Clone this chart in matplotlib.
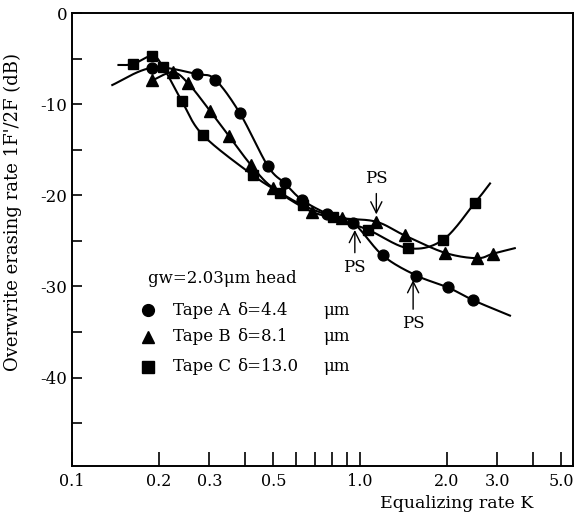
import numpy as np
import matplotlib
matplotlib.use("Agg")
import matplotlib.pyplot as plt

plt.rcParams['font.family'] = ['DejaVu Serif']
plt.rcParams['axes.unicode_minus'] = False

# Tape A (circles), delta = 4.4 um
tape_a_k = [0.190, 0.272, 0.314, 0.383, 0.479, 0.549, 0.629, 0.768, 0.946, 1.20, 1.57, 2.02, 2.47]
tape_a_db = [-6.0, -6.7, -7.3, -11.0, -16.8, -18.7, -20.5, -22.0, -23.0, -26.6, -28.8, -30.1, -31.5]
# Tape B (triangles), delta = 8.1 um
tape_b_k = [0.190, 0.224, 0.253, 0.301, 0.351, 0.419, 0.499, 0.681, 0.866, 1.14, 1.43, 1.97, 2.55, 2.90]
tape_b_db = [-7.4, -6.5, -7.7, -10.7, -13.5, -16.7, -19.2, -21.8, -22.5, -22.9, -24.4, -26.3, -26.9, -26.4]
# Tape C (squares), delta = 13.0 um
tape_c_k = [0.163, 0.190, 0.207, 0.241, 0.285, 0.425, 0.528, 0.634, 0.806, 1.07, 1.47, 1.94, 2.51]
tape_c_db = [-5.6, -4.7, -5.9, -9.7, -13.4, -17.8, -19.7, -21.1, -22.4, -23.8, -25.8, -24.9, -20.8]

# where the hand drawn curves run past the first / last points
curve_a_ends = [(0.138, -7.9), (3.32, -33.2)]
curve_b_ends = [(0.190, -7.4), (3.45, -25.8)]
curve_c_ends = [(0.145, -5.7), (2.83, -18.7)]

# PS markers: K at arrow, arrow tip dB, text dB
ps_k = [1.14, 0.96, 1.53]
ps_tip = [-22.4, -23.5, -29.0]
ps_text = [-18.2, -27.9, -34.1]

x_ticks = [0.1, 0.2, 0.3, 0.4, 0.5, 0.6, 0.7, 0.8, 0.9, 1.0, 2.0, 3.0, 4.0, 5.0]
x_labels = ['0.1', '0.2', '0.3', '', '0.5', '', '', '', '', '1.0', '2.0', '3.0', '', '5.0']
y_ticks = [0, -10, -20, -30, -40]
y_minor = [-5, -15, -25, -35, -45]

legend_markers = ['o', '^', 's']
legend_tapes = ['Tape A', 'Tape B', 'Tape C']
legend_delta = ['\u03b4=4.4', '\u03b4=8.1', '\u03b4=13.0']


def smooth(xs, ys, n=25):
    # catmull-rom through the nodes, in log-K space
    pts = np.column_stack([np.log10(xs), ys])
    p = np.vstack([pts[0], pts, pts[-1]])
    t = np.linspace(0, 1, n)[:, None]
    out = []
    for i in range(1, len(p) - 2):
        p0, p1, p2, p3 = p[i - 1], p[i], p[i + 1], p[i + 2]
        seg = 0.5 * (2 * p1 + (-p0 + p2) * t + (2 * p0 - 5 * p1 + 4 * p2 - p3) * t ** 2
                     + (-p0 + 3 * p1 - 3 * p2 + p3) * t ** 3)
        out.append(seg)
    out = np.vstack(out)
    return 10 ** out[:, 0], out[:, 1]


def curve_nodes(k, db, ends):
    ks = list(k)
    dbs = list(db)
    (k0, d0), (k1, d1) = ends
    if k0 < ks[0]:
        ks.insert(0, k0)
        dbs.insert(0, d0)
    ks.append(k1)
    dbs.append(d1)
    return ks, dbs


fig = plt.figure(figsize=(5.76, 5.13), dpi=100)
ax = fig.add_axes([0.125, 0.0916, 0.87, 0.883])

for k, db, ends, mk, ms in [(tape_a_k, tape_a_db, curve_a_ends, 'o', 7.8),
                            (tape_b_k, tape_b_db, curve_b_ends, '^', 8.5),
                            (tape_c_k, tape_c_db, curve_c_ends, 's', 7.2)]:
    ck, cdb = curve_nodes(k, db, ends)
    sx, sy = smooth(ck, cdb)
    ax.plot(sx, sy, color='black', lw=1.5)
    ax.plot(k, db, ls='none', marker=mk, ms=ms, color='black')

for k, tip, txt in zip(ps_k, ps_tip, ps_text):
    ax.annotate('', xy=(k, tip), xytext=(k, txt + (1.3 if txt < tip else -1.3)),
                arrowprops=dict(arrowstyle='->', lw=1.0, color='black', mutation_scale=20))
    ax.text(k, txt, 'PS', ha='center', va='center', fontsize=12)

# legend block
ax.text(0.152, 0.415, 'gw=2.03\u03bcm head', transform=ax.transAxes, fontsize=12, va='center')
rows_y = [0.344, 0.285, 0.219]
for mk, tape, delta, yy in zip(legend_markers, legend_tapes, legend_delta, rows_y):
    ax.plot([0.152], [yy], marker=mk, ms=8.5, color='black', transform=ax.transAxes, clip_on=False)
    ax.text(0.202, yy, tape, transform=ax.transAxes, fontsize=12, va='center')
    ax.text(0.329, yy, delta, transform=ax.transAxes, fontsize=12, va='center')
    ax.text(0.501, yy, '\u03bcm', transform=ax.transAxes, fontsize=12, va='center')

ax.set_xscale('log')
ax.set_xlim(0.1, 5.5)
ax.set_ylim(-49.7, 0)
ax.xaxis.set_minor_locator(matplotlib.ticker.NullLocator())
ax.set_xticks(x_ticks)
ax.set_xticklabels(x_labels)
ax.set_yticks(y_ticks)
ax.set_yticklabels([str(v) for v in y_ticks])
ax.set_yticks(y_minor, minor=True)
ax.tick_params(axis='x', which='major', direction='in', length=10, width=1.2, labelsize=11.5, pad=5)
ax.tick_params(axis='y', which='both', direction='in', length=7, width=1.2, labelsize=12)
for s in ax.spines.values():
    s.set_linewidth(1.4)

ax.set_xlabel('Equalizing rate K', fontsize=12.5)
ax.xaxis.set_label_coords(0.767, -0.063)
ax.set_ylabel("Overwrite erasing rate 1F'/2F (dB)", fontsize=13)
ax.yaxis.set_label_coords(-0.1, 0.56)

fig.savefig('out.png', dpi=100)
